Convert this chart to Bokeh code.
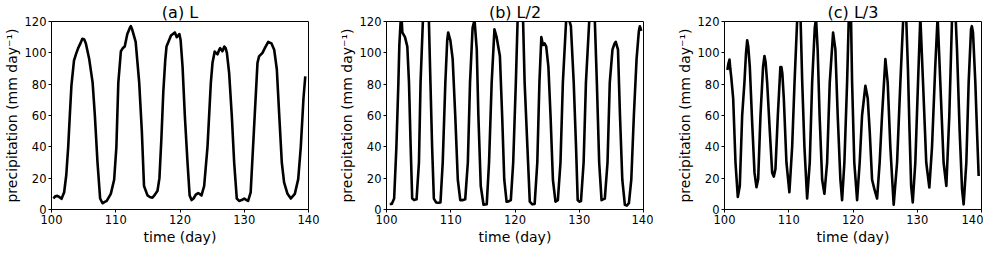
from bokeh.plotting import figure
from bokeh.layouts import row
from bokeh.models import Range1d, FixedTicker
from bokeh.embed import file_html
from bokeh.resources import INLINE

# ---------------- data ----------------
titles = ["(a) L", "(b) L/2", "(c) L/3"]
x_ticks = [100, 110, 120, 130, 140]
y_ticks = [0, 20, 40, 60, 80, 100, 120]
x_label = "time (day)"
y_label = "precipitation (mm day\u207b\u00b9)"

a_day = [100.3, 100.6, 100.9, 101.2, 101.56, 101.97, 102.3, 102.6, 102.85, 103.1,
         103.5, 103.8, 104.15, 104.5, 104.8, 105.1, 105.35, 105.87, 106.4, 106.75,
         107.16, 107.57, 107.94, 108.3, 108.6, 109.23, 109.75, 110.1, 110.4, 110.8,
         111.1, 111.4, 111.6, 111.8, 112.0, 112.2, 112.35, 112.55, 112.76, 113.1,
         113.65, 114.06, 114.4, 114.94, 115.3, 115.7, 116.1, 116.5, 116.8, 117.1,
         117.4, 117.7, 117.9, 118.3, 118.6, 118.9, 119.2, 119.5, 119.9, 120.1,
         120.4, 120.75, 121.17, 121.5, 121.8, 122.1, 122.46, 122.83, 123.1, 123.35,
         123.76, 124.28, 124.8, 125.06, 125.4, 125.84, 126.1, 126.25, 126.6, 126.9,
         127.1, 127.3, 127.65, 128.06, 128.43, 128.84, 129.2, 129.6, 130.0, 130.3,
         130.6, 131.0, 131.5, 132.06, 132.3, 132.84, 133.2, 133.73, 134.24, 134.66,
         135.07, 135.44, 135.85, 136.2, 136.73, 137.25, 137.87, 138.4, 138.8, 139.22,
         139.5]
a_precip = [7, 8.5, 8.7, 8, 6.8, 11, 22, 40, 60, 79,
            95, 99, 103, 106, 109, 108.5, 106, 96, 81, 60,
            30, 7, 4, 4.8, 5.5, 10, 19, 40, 81, 101,
            103, 104, 108, 112, 114, 116, 117, 115, 112, 107,
            81, 50, 15, 9, 8, 7.5, 9.5, 12, 20, 45,
            75, 95, 104, 108, 111, 112, 113, 110, 112, 108,
            91, 60, 30, 9, 6, 7, 9.5, 10.5, 9.8, 9,
            15, 40, 81, 93.6, 100.8, 99, 102, 103, 101, 104,
            103, 100, 87, 60, 30, 7, 5.5, 6, 7, 6.2,
            5.5, 11, 50, 93.6, 97.7, 100, 103, 107, 106, 102,
            89.5, 60.6, 29.7, 17.3, 10, 7, 10, 19.4, 40, 71,
            85]

b_day = [100.5, 100.82, 101.19, 101.54, 101.85, 102.0, 102.2, 102.35, 102.47, 102.88,
         103.24, 103.5, 103.76, 104.0, 104.3, 104.68, 105.05, 105.3, 105.66, 106.0,
         106.3, 106.6, 106.84, 107.1, 107.37, 107.72, 108.1, 108.4, 108.75, 109.16,
         109.45, 109.6, 109.94, 110.3, 110.7, 111.1, 111.48, 111.9, 112.25, 112.66,
         113.0, 113.4, 113.7, 114.05, 114.3, 114.67, 115.1, 115.6, 115.96, 116.37,
         116.8, 117.14, 117.65, 118.0, 118.33, 118.69, 119.0, 119.35, 119.72, 120.13,
         120.4, 120.7, 121.0, 121.26, 121.5, 121.93, 122.3, 122.7, 123.06, 123.47,
         123.8, 124.1, 124.35, 124.6, 124.86, 125.2, 125.53, 125.9, 126.3, 126.67,
         127.08, 127.45, 127.95, 128.3, 128.7, 129.14, 129.5, 129.76, 130.0, 130.27,
         130.68, 131.04, 131.55, 131.9, 132.2, 132.43, 132.74, 133.1, 133.47, 133.7,
         133.98, 134.4, 134.75, 135.17, 135.5, 135.68, 136.03, 136.34, 136.7, 137.1,
         137.4, 137.73, 138.1, 138.5, 138.92, 139.28, 139.43, 139.65]
b_precip = [3.5, 3.5, 7, 40, 81, 105, 120, 122, 113, 110,
            104, 81, 40, 7, 6, 6.5, 30, 81, 120, 133,
            133, 120, 81, 40, 7, 4.5, 4.3, 4.5, 30, 81,
            108, 113, 108, 96, 60, 19, 6, 6, 6.5, 30,
            81, 116, 121, 102, 60, 15, 3, 3.3, 30, 81,
            115, 110, 98, 60, 19, 5, 5.2, 6, 30, 81,
            120, 130, 130, 120, 81, 40, 5, 3.3, 3.5, 30,
            81, 110, 105, 106, 104, 91, 60, 19, 5, 6,
            30, 81, 120, 123, 117, 81, 40, 6, 5, 5.4,
            30, 81, 120, 132, 130, 120, 81, 30, 6, 6.5,
            7, 30, 81, 102, 106, 107, 102, 60, 19, 3,
            2.5, 4, 19, 60, 96, 114, 117, 114]

c_day = [100.45, 100.6, 100.78, 100.9, 101.04, 101.35, 101.71, 102.07, 102.38, 102.75,
         103.1, 103.35, 103.53, 103.7, 103.94, 104.3, 104.67, 104.98, 105.24, 105.6,
         106.0, 106.22, 106.4, 106.64, 107.05, 107.42, 107.67, 107.93, 108.3, 108.7,
         108.85, 109.0, 109.23, 109.64, 110.1, 110.53, 110.9, 111.3, 111.6, 111.85,
         112.1, 112.44, 112.86, 113.27, 113.64, 114.05, 114.25, 114.5, 114.8, 115.2,
         115.55, 115.97, 116.38, 116.9, 117.26, 117.62, 118.04, 118.3, 118.66, 119.08,
         119.33, 119.5, 119.7, 119.86, 120.2, 120.64, 121.04, 121.41, 121.93, 122.29,
         122.6, 122.97, 123.33, 123.75, 124.15, 124.52, 125.04, 125.4, 125.81, 126.33,
         126.86, 127.37, 127.8, 128.05, 128.3, 128.55, 128.8, 129.05, 129.3, 129.7,
         130.12, 130.48, 130.9, 131.4, 131.88, 132.3, 132.8, 133.17, 133.59, 134.1,
         134.53, 134.99, 135.4, 135.7, 136.0, 136.19, 136.6, 136.97, 137.22, 137.64,
         138.0, 138.37, 138.5, 138.68, 139.04, 139.3, 139.56]
c_precip = [89, 93, 95.7, 90, 85, 71, 30, 8, 15, 60,
            81, 100, 108, 104, 91, 56, 23.5, 14.2, 19.4, 60,
            91, 98, 94, 81, 50, 23.5, 21, 25.8, 60, 91,
            91, 87, 71, 30, 11, 40, 81, 120, 132, 120,
            81, 40, 7, 30, 81, 116, 122, 102, 60, 19,
            10, 30, 81, 113, 102, 60, 19, 6, 30, 81,
            120, 127, 120, 81, 30, 6, 30, 60, 79, 71,
            50, 19, 13, 7, 30, 60, 96, 81, 40, 3,
            30, 81, 120, 128, 120, 90, 50, 15, 4.5, 30,
            81, 123, 81, 30, 14, 40, 91, 123, 81, 30,
            15, 60, 120, 130, 120, 102, 50, 13, 3.3, 30,
            81, 115, 117, 113, 81, 50, 21.4]

series = [(a_day, a_precip), (b_day, b_precip), (c_day, c_precip)]

# ---------------- layout (pixels) ----------------
FRAME_W, FRAME_H = 257, 188
borders = [(51, 13), (65, 10), (71, 2)]
FONT = "DejaVu Sans"


def make_panel(title, xs, ys, left, right):
    p = figure(frame_width=FRAME_W, frame_height=FRAME_H,
               x_range=Range1d(100, 140), y_range=Range1d(0, 120),
               output_backend="svg", toolbar_location=None,
               min_border_left=left, min_border_right=right,
               min_border_top=18, min_border_bottom=36,
               background_fill_color="white", border_fill_color="white")
    p.title.text = title
    p.title.align = "center"
    p.title.text_font = FONT
    p.title.text_font_size = "16px"
    p.title.text_font_style = "normal"
    p.title.text_color = "black"
    p.title.standoff = 0

    p.line(xs, ys, line_color="black", line_width=2.6, line_join="round")

    p.xgrid.visible = False
    p.ygrid.visible = False
    p.outline_line_color = "black"
    p.outline_line_width = 1
    p.outline_line_alpha = 1

    p.xaxis.ticker = FixedTicker(ticks=x_ticks)
    p.yaxis.ticker = FixedTicker(ticks=y_ticks)
    p.xaxis.axis_label = x_label
    p.yaxis.axis_label = y_label
    for ax in (p.xaxis, p.yaxis):
        ax.axis_line_color = "black"
        ax.major_tick_line_color = "black"
        ax.major_tick_in = 0
        ax.major_tick_out = 3
        ax.minor_tick_line_color = None
        ax.major_label_text_font = FONT
        ax.major_label_text_font_size = "11.5px"
        ax.major_label_text_color = "black"
        ax.major_label_standoff = 2
        ax.axis_label_text_font = FONT
        ax.axis_label_text_font_size = "14px"
        ax.axis_label_text_font_style = "normal"
        ax.axis_label_text_color = "black"
        ax.axis_label_standoff = 2
    return p


panels = [make_panel(t, xs, ys, l, r)
          for t, (xs, ys), (l, r) in zip(titles, series, borders)]
layout = row(*panels, spacing=0)

open("out.html", "w").write(file_html(layout, INLINE))
